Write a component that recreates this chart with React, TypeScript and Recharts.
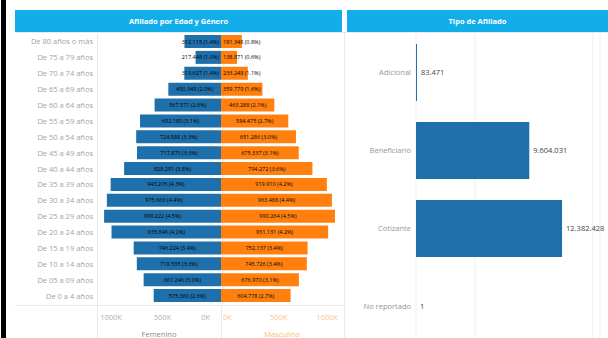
import { Bar, BarChart, CartesianGrid, LabelList, XAxis, YAxis } from "recharts"

const ageGroups = [
  "De 80 años o más",
  "De 75 a 79 años",
  "De 70 a 74 años",
  "De 65 a 69 años",
  "De 60 a 64 años",
  "De 55 a 59 años",
  "De 50 a 54 años",
  "De 45 a 49 años",
  "De 40 a 44 años",
  "De 35 a 39 años",
  "De 30 a 34 años",
  "De 25 a 29 años",
  "De 20 a 24 años",
  "De 15 a 19 años",
  "De 10 a 14 años",
  "De 05 a 09 años",
  "De 0 a 4 años",
]

const femenino = [
  312115, 217448, 313627, 450348, 567571, 692180, 724888, 717870, 828291,
  943276, 975660, 999222, 935846, 746224, 719535, 661246, 575360,
]

const masculino = [
  181348, 138871, 233248, 359779, 463288, 584475, 651286, 675337, 794272,
  919910, 963488, 990264, 931131, 752137, 745726, 676970, 604778,
]

const tipos = ["Adicional", "Beneficiario", "Cotizante", "No reportado"]
const tipoValores = [83471, 9604031, 12382428, 1]

const ageTicks = [0, 500000, 1000000]
const tipoTicks = [0, 5000000, 10000000, 15000000]

const BLUE = "#1f6fab"
const ORANGE = "#ff800e"
const HEADER = "#12aeea"
const FONT = "'Open Sans', sans-serif"

const total = [...femenino, ...masculino].reduce((a, b) => a + b, 0)

const fmt = (n: number) =>
  String(Math.round(n)).replace(/\B(?=(\d{3})+(?!\d))/g, ".")

const withPct = (v: number) => `${fmt(v)} (${((v / total) * 100).toFixed(1)}%)`

const ageData = ageGroups.map((age, i) => ({
  age,
  femenino: femenino[i],
  masculino: masculino[i],
}))

const tipoData = tipos.map((tipo, i) => ({ tipo, valor: tipoValores[i] }))

function SideTick(props: any) {
  const { x, y, payload, side } = props
  const v = payload.value as number
  let anchor: "start" | "middle" | "end" = "middle"
  let dx = 0
  if (side === "f") {
    if (v === 0) {
      anchor = "end"
      dx = -11
    } else if (v === 1000000) dx = 7
  } else {
    if (v === 0) {
      anchor = "start"
      dx = 2
    } else if (v === 1000000) {
      anchor = "end"
      dx = 2
    }
  }
  return (
    <text
      x={x + dx}
      y={y}
      dy={14}
      textAnchor={anchor}
      fontSize={7.5}
      fontFamily={FONT}
      fill={side === "f" ? "#b0b0b0" : "#f6c88e"}
    >
      {`${v / 1000}K`}
    </text>
  )
}

function CatTick(props: any) {
  const { x, y, payload, fill } = props
  return (
    <text x={x} y={y} dy={2.5} textAnchor="end" fontSize={7.5} fontFamily={FONT} fill={fill}>
      {payload.value}
    </text>
  )
}

// labels too wide for a short bar hug the centre line instead
function BarText(props: any) {
  const { x, y, width, height, value, fill, side } = props
  const left = Math.min(x, x + width)
  const right = Math.max(x, x + width)
  let tx = (left + right) / 2
  let anchor: "start" | "middle" | "end" = "middle"
  if (right - left < 46) {
    if (side === "f") {
      tx = right - 2
      anchor = "end"
    } else {
      tx = left + 2
      anchor = "start"
    }
  }
  return (
    <text
      x={tx}
      y={y + height / 2}
      dy={2}
      textAnchor={anchor}
      fontSize={5.5}
      fontFamily={FONT}
      fill={fill}
    >
      {withPct(Number(value))}
    </text>
  )
}

const line = (left: number, top: number, width: number, height: number, bg = "#e9e9e9") => (
  <div style={{ position: "absolute", left, top, width, height, background: bg }} />
)

export default function App() {
  return (
    <div
      style={{
        position: "fixed",
        left: 0,
        top: 0,
        width: 608,
        height: 338,
        overflow: "hidden",
        background: "#fff",
        fontFamily: FONT,
      }}
    >
      <style>{".recharts-surface{overflow:visible}"}</style>
      <div style={{ position: "absolute", left: 1, top: 0, width: 5, height: 338, background: "#000" }} />

      <div
        style={{
          position: "absolute", left: 15, top: 10, width: 327, height: 22, background: HEADER,
          color: "#fff", fontWeight: 700, fontSize: 7.5, lineHeight: "22px", textAlign: "center",
        }}
      >
        Afiliado por Edad y Género
      </div>
      <div
        style={{
          position: "absolute", left: 347, top: 10, width: 261, height: 22, background: HEADER,
          color: "#fff", fontWeight: 700, fontSize: 7.5, lineHeight: "22px", textAlign: "center",
        }}
      >
        Tipo de Afiliado
      </div>
      {line(15, 32, 593, 1, "#f1e6f4")}

      {line(97, 34, 1, 304)}
      {line(221, 305, 1, 33)}
      {line(15, 305, 328, 1)}
      {line(344, 33, 1, 305)}

      <div style={{ position: "absolute", left: 15, top: 34 }}>
        <BarChart
          layout="vertical"
          data={ageData}
          width={206}
          height={304}
          margin={{ top: 0, right: 0, bottom: 0, left: 0 }}
        >
          <XAxis
            type="number"
            reversed
            domain={[0, 1060000]}
            ticks={ageTicks}
            interval={0}
            tick={<SideTick side="f" />}
            axisLine={false}
            tickLine={false}
            tickSize={0}
            height={34}
            label={{ value: "Femenino", position: "insideBottom", offset: 1, fill: "#8a8a8a", fontSize: 7.5, fontFamily: FONT }}
          />
          <YAxis
            type="category"
            dataKey="age"
            width={82}
            interval={0}
            axisLine={false}
            tickLine={false}
            tickSize={0}
            tickMargin={4}
            tick={<CatTick fill="#a3a3a3" />}
          />
          <Bar dataKey="femenino" fill={BLUE} barSize={13} isAnimationActive={false}>
            <LabelList dataKey="femenino" content={<BarText fill="#1c2a38" side="f" />} />
          </Bar>
        </BarChart>
      </div>

      <div style={{ position: "absolute", left: 221, top: 34 }}>
        <BarChart
          layout="vertical"
          data={ageData}
          width={122}
          height={304}
          margin={{ top: 0, right: 0, bottom: 0, left: 0 }}
        >
          <XAxis
            type="number"
            domain={[0, 1060000]}
            ticks={ageTicks}
            interval={0}
            tick={<SideTick side="m" />}
            axisLine={false}
            tickLine={false}
            tickSize={0}
            height={34}
            label={{ value: "Masculino", position: "insideBottom", offset: 1, fill: "#f2c46a", fontSize: 7.5, fontFamily: FONT }}
          />
          <YAxis type="category" dataKey="age" hide />
          <Bar dataKey="masculino" fill={ORANGE} barSize={13} isAnimationActive={false}>
            <LabelList dataKey="masculino" content={<BarText fill="#3d2a17" side="m" />} />
          </Bar>
        </BarChart>
      </div>

      <div style={{ position: "absolute", left: 344, top: 33 }}>
        <BarChart
          layout="vertical"
          data={tipoData}
          width={264}
          height={312}
          margin={{ top: 0, right: 8, bottom: 0, left: 0 }}
        >
          <CartesianGrid horizontal={false} stroke="#eeeeee" />
          <XAxis type="number" domain={[0, 15600000]} ticks={tipoTicks} hide />
          <YAxis
            type="category"
            dataKey="tipo"
            width={72}
            axisLine={false}
            tickLine={false}
            tickSize={0}
            tickMargin={5}
            tick={<CatTick fill="#959595" />}
          />
          <Bar dataKey="valor" fill={BLUE} barSize={57} isAnimationActive={false}>
            <LabelList
              dataKey="valor"
              position="right"
              offset={4}
              formatter={(v: any) => fmt(Number(v))}
              style={{ fontSize: 7.5, fill: "#444", fontFamily: FONT }}
            />
          </Bar>
        </BarChart>
      </div>
    </div>
  )
}
